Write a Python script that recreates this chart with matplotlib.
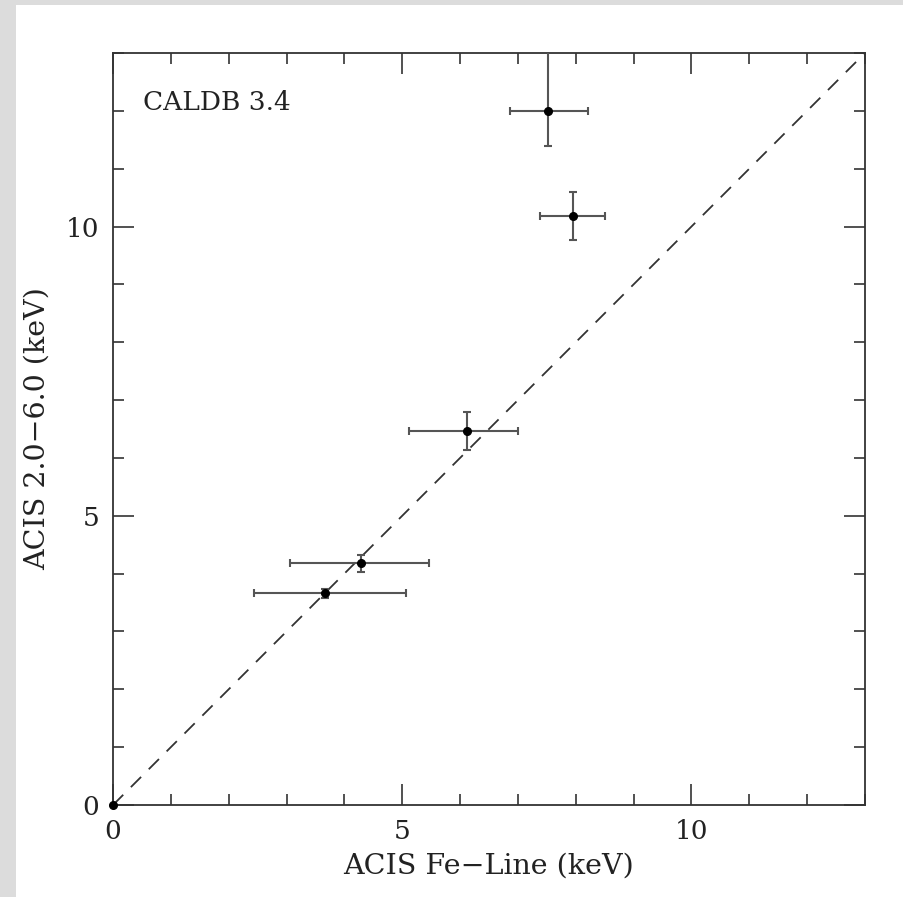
import matplotlib
matplotlib.use("Agg")
import matplotlib.pyplot as plt
from matplotlib.patches import Rectangle
from matplotlib.ticker import MultipleLocator

# Data (keV)
fe_line = [0.0, 3.66, 4.29, 6.125, 7.95, 7.52]
fe_err_lo = [0.0, 1.23, 1.23, 1.00, 0.57, 0.66]
fe_err_hi = [0.0, 1.40, 1.17, 0.88, 0.56, 0.70]
band = [0.0, 3.66, 4.18, 6.46, 10.19, 12.00]
band_err_lo = [0.0, 0.08, 0.15, 0.32, 0.43, 0.61]
band_err_hi = [0.0, 0.08, 0.14, 0.34, 0.40, 1.20]
xlim = (0, 13)
ylim = (0, 13)
tick_labels = ["0", "5", "10"]
tick_values = [0, 5, 10]

plt.rcParams['font.family'] = ['DejaVu Serif']

fig = plt.figure(figsize=(9.04, 8.97), dpi=100)
fig.patch.set_facecolor('#dcdcdc')
fig.patches.append(Rectangle((16 / 904, 0), 1 - 16 / 904, 1 - 5 / 897,
                             transform=fig.transFigure, facecolor='white',
                             edgecolor='none', zorder=-10))

ax = fig.add_axes([113 / 904, 92 / 897, 752 / 904, 752 / 897])
ax.set_zorder(5)
ax.set_facecolor('white')

ax.plot(xlim, ylim, linestyle=(0, (8, 6)), color='#333333', linewidth=1.3, zorder=1)

ax.errorbar(fe_line, band,
            xerr=[fe_err_lo, fe_err_hi], yerr=[band_err_lo, band_err_hi],
            fmt='none', ecolor='#555555',
            elinewidth=1.5, capsize=3, capthick=1.5, zorder=3, clip_on=True)
ax.plot(fe_line, band, 'o', color='black', markersize=5.5, zorder=4, clip_on=False)

ax.set_xlim(*xlim)
ax.set_ylim(*ylim)
ax.set_xticks(tick_values)
ax.set_xticklabels(tick_labels)
ax.set_yticks(tick_values)
ax.set_yticklabels(tick_labels)
ax.xaxis.set_minor_locator(MultipleLocator(1))
ax.yaxis.set_minor_locator(MultipleLocator(1))
ax.tick_params(which='both', direction='in', top=True, right=True,
               color='#333333', width=1.2)
ax.tick_params(which='major', length=15, labelsize=19, pad=10, labelcolor='#222222')
ax.tick_params(which='minor', length=8)
for s in ax.spines.values():
    s.set_color('#333333')
    s.set_linewidth(1.3)

ax.set_xlabel("ACIS Fe\u2212Line (keV)", fontsize=20.5, color='#222222', labelpad=6)
ax.set_ylabel("ACIS 2.0\u22126.0 (keV)", fontsize=20.5, color='#222222', labelpad=11)

ax.text(0.04, 0.934, "CALDB 3.4", transform=ax.transAxes, fontsize=19,
        ha='left', va='center', color='#222222')

fig.savefig("out.png", dpi=100, facecolor=fig.get_facecolor())
